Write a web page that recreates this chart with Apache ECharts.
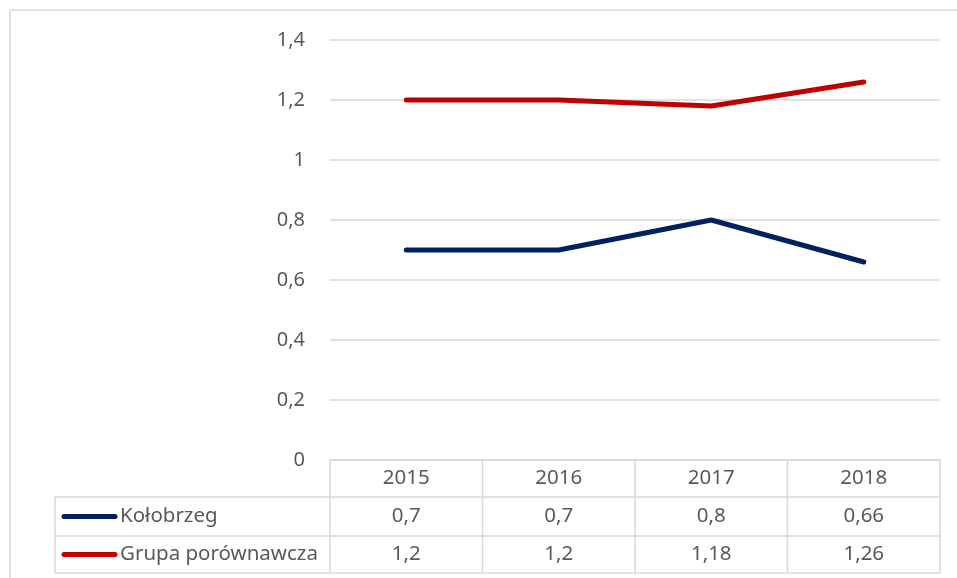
<!DOCTYPE html>
<html><head><meta charset="utf-8">
<script src="https://cdn.jsdelivr.net/npm/echarts@6/dist/echarts.min.js"></script>
<style>html,body{margin:0;padding:0;background:#fff}#c{width:957px;height:578px}</style>
</head><body><div id="c"></div>
<script>
const years = ['2015', '2016', '2017', '2018'];
const seriesNames = ['Kołobrzeg', 'Grupa porównawcza'];
const kolobrzeg = [0.7, 0.7, 0.8, 0.66];
const grupa = [1.2, 1.2, 1.18, 1.26];
const colors = ['#002060', '#C00000'];

const FONT = 'Noto Sans';
const TXT = '#595959';
const BORDER = '#d9d9d9';
const FS = 20.5;
const fmt = v => String(+(+v).toFixed(2)).replace('.', ',');

const chart = echarts.init(document.getElementById('c'), null, {renderer: 'canvas'});
chart.setOption({
  animation: false,
  backgroundColor: '#fff',
  textStyle: {fontFamily: FONT},
  grid: {left: 330, right: 17, top: 40, bottom: 118, containLabel: false},
  xAxis: {
    type: 'category', data: years, boundaryGap: true,
    axisLine: {lineStyle: {color: BORDER, width: 1.5}},
    axisTick: {show: false}, axisLabel: {show: false}
  },
  yAxis: {
    type: 'value', min: 0, max: 1.4, interval: 0.2,
    axisLine: {show: false}, axisTick: {show: false},
    axisLabel: {formatter: v => fmt(v), color: TXT, fontSize: 20, fontFamily: FONT, margin: 25},
    splitLine: {lineStyle: {color: BORDER, width: 1.5}}
  },
  series: [
    {name: seriesNames[0], type: 'line', data: kolobrzeg, symbol: 'none',
     lineStyle: {color: colors[0], width: 5, cap: 'round', join: 'round'}},
    {name: seriesNames[1], type: 'line', data: grupa, symbol: 'none',
     lineStyle: {color: colors[1], width: 5, cap: 'round', join: 'round'}}
  ]
});

// Data table below the plot, positioned from the category axis
const centers = years.map((y, i) => chart.convertToPixel({xAxisIndex: 0}, i));
const step = centers.length > 1 ? centers[1] - centers[0] : 150;
const left = centers[0] - step / 2;
const right = centers[centers.length - 1] + step / 2;
const yTop = chart.convertToPixel({yAxisIndex: 0}, 0);
const rowH = [37, 39, 37];
const rowTops = [yTop, yTop + rowH[0], yTop + rowH[0] + rowH[1]];
const yBottom = rowTops[2] + rowH[2];
const labelLeft = 55;

const g = [];
const line = (x1, y1, x2, y2) => g.push({type: 'line', shape: {x1, y1, x2, y2}, style: {stroke: BORDER, lineWidth: 1.5}, silent: true});
const text = (x, y, t, align) => g.push({type: 'text', x, y, style: {text: t, fill: TXT, font: FS + 'px "' + FONT + '"', textAlign: align || 'center', textVerticalAlign: 'middle'}, silent: true});

// outer frame
g.push({type: 'rect', shape: {x: 10, y: 10, width: 1000, height: 1000}, style: {fill: null, stroke: BORDER, lineWidth: 1.5}, silent: true});

// vertical lines
for (let i = 0; i <= years.length; i++) {
  const x = left + i * step;
  line(x, yTop, x, yBottom);
}
// horizontal lines
line(labelLeft, rowTops[1], right, rowTops[1]);
line(labelLeft, rowTops[2], right, rowTops[2]);
line(labelLeft, yBottom, right, yBottom);
line(labelLeft, rowTops[1], labelLeft, yBottom);

years.forEach((y, i) => text(centers[i], rowTops[0] + rowH[0] / 2, y));
const rows = [kolobrzeg, grupa];
rows.forEach((vals, r) => {
  const cy = rowTops[r + 1] + rowH[r + 1] / 2;
  vals.forEach((v, i) => text(centers[i], cy, fmt(v)));
  g.push({type: 'line', shape: {x1: 64, y1: cy, x2: 115, y2: cy}, style: {stroke: colors[r], lineWidth: 5, lineCap: 'round'}, silent: true});
  text(120, cy, seriesNames[r], 'left');
});

chart.setOption({graphic: g});
</script>
</body></html>
